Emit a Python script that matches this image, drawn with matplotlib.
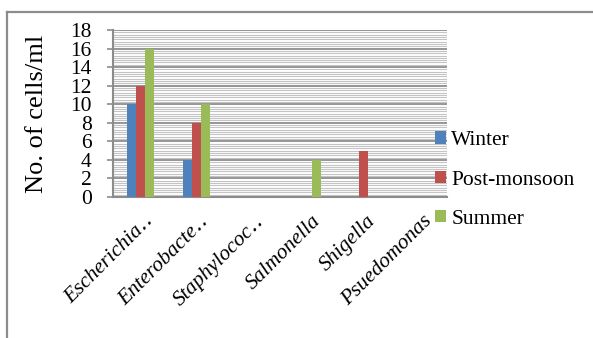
import matplotlib
matplotlib.use("Agg")
import matplotlib.pyplot as plt
import numpy as np
from matplotlib.lines import Line2D
from matplotlib.patches import Patch
from matplotlib.ticker import MultipleLocator
import matplotlib.transforms as mtransforms

plt.rcParams['font.family'] = ['Liberation Serif', 'DejaVu Serif']

# Bacterial counts per genus and season
genera = ["Escherichia‥", "Enterobacte‥", "Staphylococ‥", "Salmonella", "Shigella", "Psuedomonas"]
winter = [10, 4, 0, 0, 0, 0]
post_monsoon = [12, 8, 0, 0, 5, 0]
summer = [16, 10, 0, 4, 0, 0]
seasons = ["Winter", "Post-monsoon", "Summer"]
colors = ["#4F81BD", "#C0504D", "#9BBB59"]
y_ticks = list(range(0, 19, 2))

W, H = 593, 338
fig = plt.figure(figsize=(W / 100, H / 100), dpi=100)
ax = fig.add_axes([113 / W, 1 - 197 / H, (447 - 113) / W, (197 - 30) / H])

x = np.arange(len(genera))
bw = 0.16
for i, (vals, c) in enumerate(zip([winter, post_monsoon, summer], colors)):
    ax.bar(x + (i - 1) * bw, vals, width=bw, color=c, zorder=3, linewidth=0)

ax.set_xlim(-0.5, len(genera) - 0.5)
ax.set_ylim(0, 18)
ax.set_yticks(y_ticks)
ax.set_yticklabels([str(t) for t in y_ticks], fontsize=15.5)
ax.yaxis.set_minor_locator(MultipleLocator(0.25))
ax.grid(which='major', axis='y', color='#8c8c8c', linewidth=1.3, zorder=1)
ax.grid(which='minor', axis='y', color='#c4c4c4', linewidth=0.8, zorder=0)
ax.tick_params(axis='y', which='major', length=4.3, width=1.2, color='#8c8c8c', pad=11)
ax.tick_params(axis='y', which='minor', length=0)
ax.tick_params(axis='x', length=0)

ax.set_xticks(x)
ax.set_xticklabels(genera, rotation=45, ha='right', va='top', rotation_mode='anchor',
                   fontsize=15.5, style='italic')
offset = mtransforms.ScaledTranslation(3 / 100, -10 / 100, fig.dpi_scale_trans)
for lbl in ax.get_xticklabels():
    lbl.set_transform(lbl.get_transform() + offset)

ax.set_ylabel("No. of cells/ml", fontsize=19, labelpad=16)

for s in ['top', 'right']:
    ax.spines[s].set_visible(False)
ax.spines['left'].set_color('#8c8c8c')
ax.spines['left'].set_linewidth(1.5)
ax.spines['bottom'].set_color('#8c8c8c')
ax.spines['bottom'].set_linewidth(1.5)
ax.set_axisbelow(True)

handles = [Patch(facecolor=c, edgecolor='none') for c in colors]
leg = fig.legend(handles, seasons, loc='center left',
                 bbox_to_anchor=(435 / W, 1 - 180 / H), bbox_transform=fig.transFigure,
                 frameon=False, fontsize=15.5, handlelength=0.5, handleheight=0.5,
                 handletextpad=0.25, labelspacing=0.95, borderpad=0, borderaxespad=0)

# outer frame edges along the top and left
fig.add_artist(Line2D([7 / W, 1], [1 - 12 / H, 1 - 12 / H], transform=fig.transFigure,
                      color='#8c8c8c', linewidth=1.6))
fig.add_artist(Line2D([7 / W, 7 / W], [0, 1 - 12 / H], transform=fig.transFigure,
                      color='#8c8c8c', linewidth=1.6))

fig.savefig("out.png", dpi=100)
